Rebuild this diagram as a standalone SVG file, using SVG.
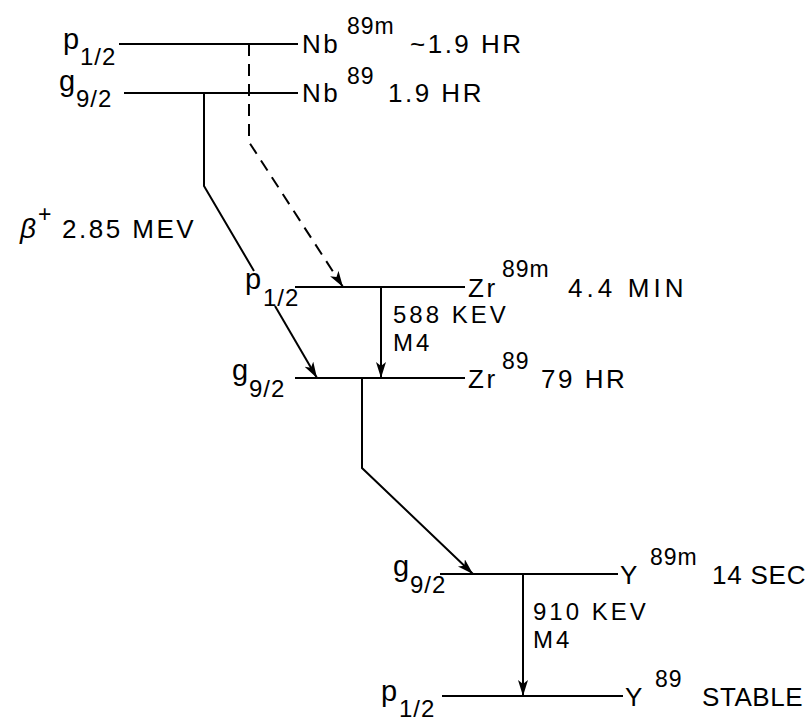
<svg xmlns="http://www.w3.org/2000/svg" width="811" height="721" viewBox="0 0 811 721">
<style>
text{font-family:"Liberation Sans",Arial,sans-serif;font-size:26px;letter-spacing:2.5px;fill:#000}
.sup{font-size:23px;letter-spacing:1px}
.sub{font-size:24px;letter-spacing:1px}
.pg{font-size:29px;letter-spacing:0}
.gl{font-size:24px;letter-spacing:3px}
.lvl{stroke:#000;stroke-width:2.2;fill:none}
.tr{stroke:#000;stroke-width:2;fill:none}
.dash{stroke-dasharray:12 8}
</style>
<defs>
<marker id="ah" markerUnits="userSpaceOnUse" markerWidth="18" markerHeight="12" refX="16" refY="5" orient="auto">
<path d="M0,0 L16,5 L0,10 L4,5 Z" fill="#000"/>
</marker>
</defs>
<rect width="811" height="721" fill="#fff"/>

<g id="nb89m">
<line class="lvl" x1="119" y1="44" x2="298" y2="44"/>
<text class="pg" x="63" y="49">p</text><text class="sub" x="80" y="65">1/2</text>
<text x="302" y="53">Nb</text><text class="sup" x="347" y="34">89m</text><text x="410" y="53">~1.9 HR</text>
</g>
<g id="nb89">
<line class="lvl" x1="124" y1="93" x2="298" y2="93"/>
<text class="pg" x="59" y="91">g</text><text class="sub" x="76" y="107">9/2</text>
<text x="302" y="102">Nb</text><text class="sup" x="347" y="84">89</text><text x="388" y="102">1.9 HR</text>
</g>
<g id="zr89m">
<line class="lvl" x1="295" y1="287" x2="465" y2="287"/>
<text class="pg" x="245" y="289">p</text><text class="sub" x="263" y="306">1/2</text>
<text x="468" y="297">Zr</text><text class="sup" x="502" y="277">89m</text><text x="568" y="297" textLength="118" lengthAdjust="spacing">4.4 MIN</text>
</g>
<g id="zr89">
<line class="lvl" x1="295" y1="378" x2="465" y2="378"/>
<text class="pg" x="232" y="380">g</text><text class="sub" x="249" y="397">9/2</text>
<text x="468" y="388">Zr</text><text class="sup" x="502" y="369">89</text><text x="541" y="388">79 HR</text>
</g>
<g id="y89m">
<line class="lvl" x1="440" y1="574" x2="618" y2="574"/>
<text class="pg" x="393" y="576">g</text><text class="sub" x="410" y="593">9/2</text>
<text x="620" y="584">Y</text><text class="sup" x="650" y="565">89m</text><text x="712" y="584" textLength="96" lengthAdjust="spacing">14 SEC</text>
</g>
<g id="y89">
<line class="lvl" x1="442" y1="696" x2="623" y2="696"/>
<text class="pg" x="381" y="701">p</text><text class="sub" x="399" y="717">1/2</text>
<text x="625" y="706">Y</text><text class="sup" x="655" y="687">89</text><text x="702" y="706" textLength="103" lengthAdjust="spacing">STABLE</text>
</g>
<g id="beta-label">
<text x="20" y="238" style="font-style:italic;font-size:28px">β</text><text class="sup" x="38" y="222">+</text><text x="62" y="238">2.85 MEV</text>
</g>
<g id="labels">
<text class="gl" x="393" y="323">588 KEV</text><text class="gl" x="393" y="351">M4</text>
<text class="gl" x="533" y="620">910 KEV</text><text class="gl" x="533" y="648">M4</text>
</g>

<g id="connectors">
<path class="tr" d="M204,93 V186 L254,271"/>
<path class="tr" d="M275,306 L317,378" marker-end="url(#ah)"/>
<path class="tr dash" d="M249,44 V142 L343,287" marker-end="url(#ah)"/>
<path class="tr" d="M381,287 V378" marker-end="url(#ah)"/>
<path class="tr" d="M362,378 V468 L473,574" marker-end="url(#ah)"/>
<path class="tr" d="M523,574 V696" marker-end="url(#ah)"/>
</g>
</svg>
